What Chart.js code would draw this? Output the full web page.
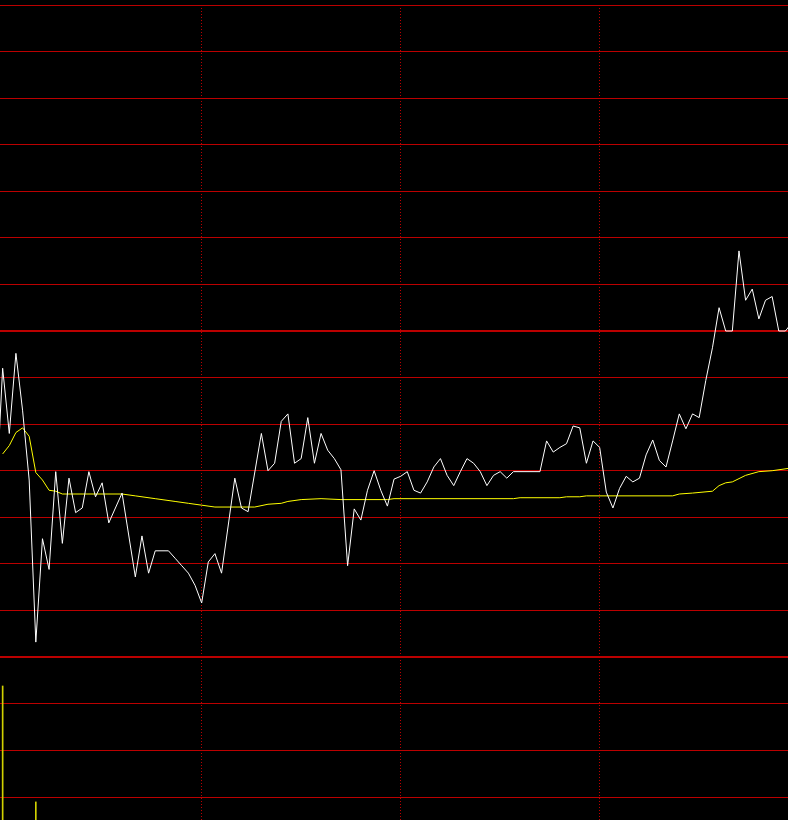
<!DOCTYPE html>
<html>
<head>
<meta charset="utf-8">
<script src="https://cdn.jsdelivr.net/npm/chart.js@4/dist/chart.umd.min.js"></script>
<style>
  html, body { margin: 0; padding: 0; background: #000; overflow: hidden; }
  #wrap { position: relative; width: 788px; height: 820px; overflow: hidden; background: #000; }
  #priceBox { position: absolute; left: 0; top: 0; width: 800px; height: 662px; }
  #volBox { position: absolute; left: 0; top: 657px; width: 800px; height: 187px; }
</style>
</head>
<body>
<div id="wrap">
  <div id="priceBox"><canvas id="priceChart" width="800" height="662"></canvas></div>
  <div id="volBox"><canvas id="volChart" width="800" height="187"></canvas></div>
</div>
<script>
// minutes since open (2-minute samples), price and average price
const priceMinutes = [-1, 0, 2, 4, 6, 8, 10, 12, 14, 16, 18, 20, 22, 24, 26, 28, 30, 32, 36, 40,
  42, 44, 46, 50, 52, 54, 56, 58, 60, 62, 64, 66, 70, 72, 74, 78, 80, 82, 84, 86,
  88, 90, 92, 94, 96, 98, 100, 102, 104, 106, 108, 110, 112, 114, 116, 118, 120, 122, 124, 126,
  128, 130, 132, 134, 136, 138, 140, 142, 144, 146, 148, 150, 152, 154, 162, 164, 166, 168, 170, 172,
  174, 176, 178, 180, 182, 184, 186, 188, 190, 192, 194, 196, 198, 200, 202, 204, 206, 208, 210, 212,
  214, 216, 218, 220, 222, 224, 226, 228, 230, 232, 234, 236, 238];
const priceValues = [9.890, 9.960, 9.890, 9.976, 9.915, 9.840, 9.666, 9.777, 9.744, 9.849, 9.772, 9.842, 9.805, 9.810, 9.849, 9.822, 9.837, 9.794, 9.826, 9.736,
  9.780, 9.740, 9.764, 9.764, 9.756, 9.748, 9.740, 9.727, 9.708, 9.752, 9.761, 9.740, 9.842, 9.810, 9.806, 9.890, 9.850, 9.858, 9.903, 9.911,
  9.858, 9.863, 9.907, 9.858, 9.890, 9.872, 9.863, 9.851, 9.748, 9.809, 9.797, 9.829, 9.850, 9.829, 9.812, 9.841, 9.844, 9.849, 9.829, 9.826,
  9.838, 9.854, 9.863, 9.845, 9.834, 9.849, 9.863, 9.858, 9.849, 9.834, 9.845, 9.849, 9.842, 9.849, 9.849, 9.882, 9.870, 9.875, 9.879, 9.898,
  9.896, 9.858, 9.882, 9.875, 9.827, 9.810, 9.831, 9.844, 9.838, 9.842, 9.867, 9.883, 9.861, 9.854, 9.882, 9.911, 9.895, 9.911, 9.907, 9.947,
  9.982, 10.025, 10.000, 10.000, 10.086, 10.033, 10.045, 10.013, 10.033, 10.037, 10.000, 10.000, 10.009];

const avgMinutes = [0, 2, 4, 6, 8, 10, 12, 14, 16, 18, 36, 40, 46, 52, 56, 60, 64, 76, 80, 84,
  86, 90, 96, 102, 116, 118, 154, 156, 168, 170, 174, 176, 202, 204, 208, 214, 216, 218, 220, 224,
  228, 232, 238];
const avgValues = [9.868, 9.877, 9.891, 9.896, 9.887, 9.848, 9.840, 9.829, 9.828, 9.825, 9.825, 9.823, 9.820, 9.817, 9.815, 9.813, 9.811, 9.811, 9.814, 9.815,
  9.817, 9.819, 9.820, 9.819, 9.819, 9.820, 9.820, 9.821, 9.821, 9.822, 9.822, 9.823, 9.823, 9.825, 9.826, 9.828, 9.834, 9.837, 9.838, 9.845,
  9.849, 9.850, 9.853];

const volMinutes = [0, 10];
const volValues = [3380, 900];

const prevClose = 10.00;
const priceTicks = [9.65, 9.70, 9.75, 9.80, 9.85, 9.90, 9.95, 10.00, 10.05, 10.10, 10.15, 10.20, 10.25, 10.30, 10.35];
const volTicks = [0, 1000, 2000, 3000, 4000];
const hourTicks = [60, 120, 180];

const gridRed = "#bb0000";

function pts(xs, ys) {
  return xs.map((x, i) => ({ x: x, y: ys[i] }));
}

function setTicks(list) {
  return function (scale) {
    scale.ticks = list.map(v => ({ value: v }));
  };
}

// time axis: 3.3167 px per minute on an 800px canvas
function timeAxis() {
  return {
    type: "linear",
    min: -0.8,
    max: 240.4,
    offset: false,
    afterBuildTicks: setTicks(hourTicks),
    ticks: { display: false },
    grid: { color: gridRed, lineWidth: 1, drawTicks: false, offset: false },
    border: { display: false, dash: [1, 2] },
  };
}

new Chart(document.getElementById("priceChart"), {
  type: "line",
  data: {
    datasets: [
      {
        label: "price",
        data: pts(priceMinutes, priceValues),
        borderColor: "#ffffff",
        borderWidth: 1,
        pointRadius: 0,
        tension: 0,
      },
      {
        label: "average",
        data: pts(avgMinutes, avgValues),
        borderColor: "#ffff00",
        borderWidth: 1,
        pointRadius: 0,
        tension: 0,
      },
    ],
  },
  options: {
    responsive: false,
    animation: false,
    devicePixelRatio: 1,
    layout: { padding: { top: 5, bottom: 5, left: 0, right: 0 } },
    plugins: { legend: { display: false }, tooltip: { enabled: false } },
    scales: {
      x: timeAxis(),
      y: {
        min: 9.65,
        max: 10.35,
        afterBuildTicks: setTicks(priceTicks),
        ticks: { display: false },
        grid: {
          color: gridRed,
          drawTicks: false,
          // previous close and the panel bottom are drawn heavier
          lineWidth: ctx => (Math.abs(ctx.tick.value - prevClose) < 1e-6 || Math.abs(ctx.tick.value - 9.65) < 1e-6) ? 2 : 1,
        },
        border: { display: false },
      },
    },
  },
});

new Chart(document.getElementById("volChart"), {
  type: "bar",
  data: {
    datasets: [
      {
        label: "volume",
        data: pts(volMinutes, volValues),
        backgroundColor: "#d0d000",
        barThickness: 1,
      },
    ],
  },
  options: {
    responsive: false,
    animation: false,
    devicePixelRatio: 1,
    layout: { padding: 0 },
    plugins: { legend: { display: false }, tooltip: { enabled: false } },
    scales: {
      x: timeAxis(),
      y: {
        min: 0,
        max: 4000,
        afterBuildTicks: setTicks(volTicks),
        ticks: { display: false },
        grid: {
          color: ctx => (ctx.tick.value === 4000 ? "rgba(0,0,0,0)" : gridRed),
          lineWidth: 1,
          drawTicks: false,
        },
        border: { display: false },
      },
    },
  },
});
</script>
</body>
</html>
